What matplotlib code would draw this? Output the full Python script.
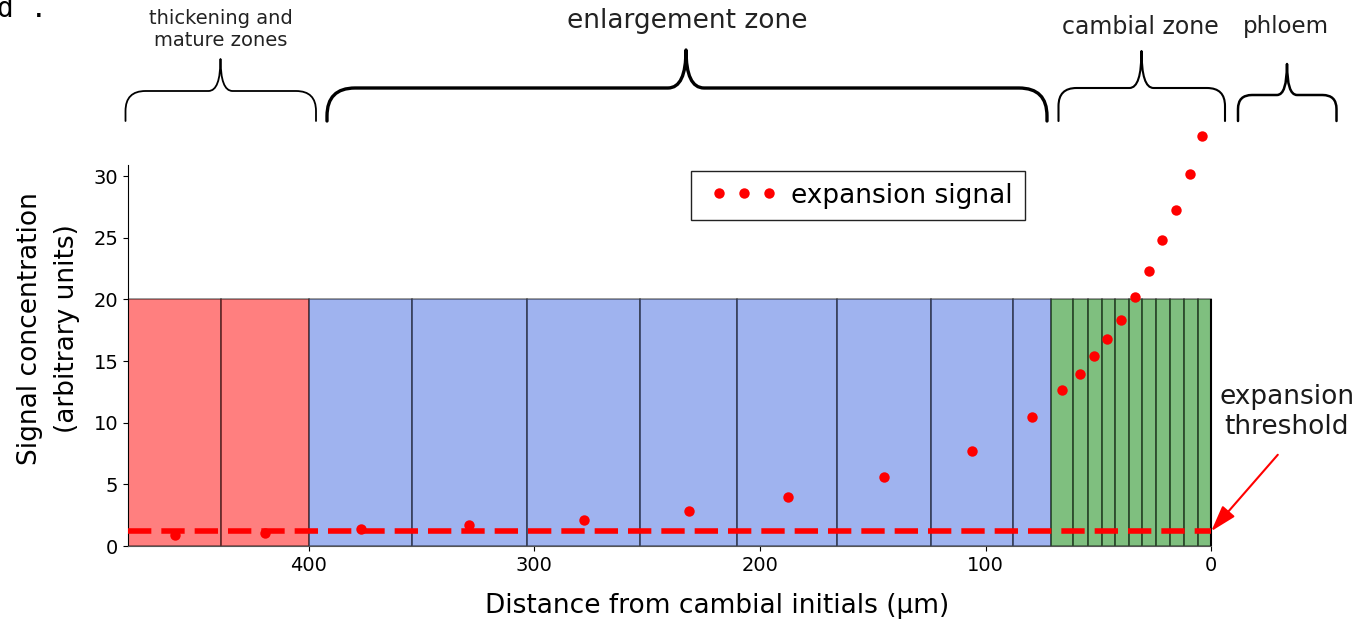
import matplotlib
matplotlib.use("Agg")
import matplotlib.pyplot as plt
from matplotlib.path import Path
from matplotlib.patches import PathPatch
from matplotlib.transforms import Affine2D
from matplotlib.colors import to_rgba
from matplotlib.legend_handler import HandlerLine2D

# ---------------- data ----------------
cell_edges = [480, 439, 400, 354, 303, 253, 210, 166, 124, 88, 71,
              61.3, 54.8, 48.6, 42.6, 36.4, 30.5, 24.3, 18.4, 12.2, 6.0, 0]
cell_zones = ["thickening"] * 2 + ["enlargement"] * 8 + ["cambial"] * 11
cell_height = 20

signal_x = [459, 419.2, 376.8, 328.7, 277.9, 231.3, 187.7, 144.9, 105.9, 79.5,
            66.1, 58.2, 51.9, 46.0, 39.8, 33.7, 27.5, 21.6, 15.4, 9.2, 4.1]
signal_y = [0.92, 1.09, 1.41, 1.68, 2.11, 2.87, 3.97, 5.6, 7.74, 10.44,
            12.65, 13.98, 15.39, 16.76, 18.36, 20.22, 22.33, 24.82, 27.25, 30.15, 33.25]

threshold = 1.2

x_ticks = [400, 300, 200, 100, 0]
y_ticks = [0, 5, 10, 15, 20, 25, 30]

zone_colors = {"thickening": "red", "enlargement": "royalblue", "cambial": "green"}

# ---------------- figure ----------------
W, H = 1365, 622
fig = plt.figure(figsize=(W / 100, H / 100), dpi=100)
ax = fig.add_axes([128 / W, 1 - 546 / H, (1306 - 128) / W, (546 - 112) / H])

lefts = cell_edges[1:]
widths = [a - b for a, b in zip(cell_edges[:-1], cell_edges[1:])]
ax.bar(lefts, [cell_height] * len(lefts), width=widths, align="edge",
       color=[to_rgba(zone_colors[z], 0.5) for z in cell_zones],
       edgecolor=(0, 0, 0, 0.45), linewidth=1.2, zorder=1)
ax.vlines(0, 0, cell_height, color="black", lw=1.5, zorder=2)

ax.plot([cell_edges[0], cell_edges[-1]], [threshold, threshold], color="red",
        lw=4, dashes=(4.2, 1.8), zorder=3)
sig_line, = ax.plot(signal_x, signal_y, "o", color="red", markersize=7.5,
                    markeredgewidth=0, label="expansion signal", zorder=4,
                    clip_on=False)

ax.set_xlim(480, -42)
ax.set_ylim(0, 35.2)
ax.set_xticks(x_ticks)
ax.set_yticks(y_ticks)
ax.tick_params(labelsize=14)
for s in ("top", "right"):
    ax.spines[s].set_visible(False)
ax.spines["bottom"].set_bounds(480, 0)
ax.spines["left"].set_bounds(0, 30.87)
ax.spines["bottom"].set_color("#555555")

ax.set_xlabel("Distance from cambial initials (µm)", fontsize=19, labelpad=13)
ax.set_ylabel("Signal concentration\n(arbitrary units)", fontsize=19,
              labelpad=10, linespacing=1.55)

leg = ax.legend(loc="center", bbox_to_anchor=(0.6197, 0.8076),
                fontsize=19, fancybox=False, edgecolor="#222222",
                framealpha=1, handlelength=3.1, handletextpad=0.24,
                borderpad=0.45,
                handler_map={sig_line: HandlerLine2D(numpoints=3, marker_pad=0.6)})
leg.get_frame().set_linewidth(1.0)

ax.annotate("", xy=(0, threshold), xytext=(-29.5, 7.4),
            arrowprops=dict(arrowstyle="-|>,head_length=0.8,head_width=0.25",
                            color="red", lw=1.5, mutation_scale=20,
                            shrinkA=0, shrinkB=0))
ax.text(-33.4, 10.84, "expansion\nthreshold", ha="center", va="center",
        fontsize=19, color="#1a1a1a", linespacing=1.2)

# ---------------- braces & zone labels (figure pixel coords) ----------------
pix = Affine2D().scale(1 / W, -1 / H).translate(0, 1) + fig.transFigure


def brace(xl, xr, xm, yb, yh, yt, r, cw, lw):
    verts = [(xl, yb), (xl, yh + r), (xl, yh), (xl + r, yh),
             (xm - cw, yh), (xm, yh), (xm, yt),
             (xm, yh), (xm + cw, yh),
             (xr - r, yh), (xr, yh), (xr, yh + r), (xr, yb)]
    codes = [Path.MOVETO, Path.LINETO, Path.CURVE3, Path.CURVE3,
             Path.LINETO, Path.CURVE3, Path.CURVE3,
             Path.CURVE3, Path.CURVE3,
             Path.LINETO, Path.CURVE3, Path.CURVE3, Path.LINETO]
    fig.add_artist(PathPatch(Path(verts, codes), facecolor="none",
                             edgecolor="black", lw=lw, transform=pix,
                             capstyle="round", joinstyle="round"))


brace(125.5, 316, 220.5, 121, 91, 59, 20, 12, 1.3)
brace(327, 1047, 686, 121, 88, 50, 28, 18, 2.4)
brace(1058.5, 1225, 1141.5, 121, 88, 51, 18, 12, 1.5)
brace(1238, 1336.5, 1287, 121, 95, 64, 14, 10, 1.8)

fig.text(221 / W, 1 - 30 / H, "thickening and\nmature zones", ha="center",
         va="center", fontsize=14, color="#222222", linespacing=1.2)
fig.text(687 / W, 1 - 21 / H, "enlargement zone", ha="center", va="center",
         fontsize=19, color="#222222")
fig.text(1140 / W, 1 - 27 / H, "cambial zone", ha="center", va="center",
         fontsize=17, color="#222222")
fig.text(1286 / W, 1 - 27 / H, "phloem", ha="center", va="center",
         fontsize=16.5, color="#222222")
fig.text(-0.002, 1 - 17 / H, "d .", ha="left", va="baseline", fontsize=20,
         family="DejaVu Sans Mono")

fig.savefig("out.png", dpi=100)
